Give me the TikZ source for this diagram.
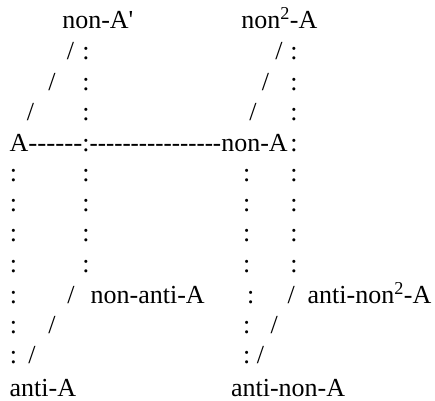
\documentclass[tikz,border=0pt]{standalone}
\usepackage{fontspec}
\setmainfont{Liberation Serif}[Ligatures=TeXOff]
\usepackage{tikz}
\usetikzlibrary{positioning}

\begin{document}
\begin{tikzpicture}[
  x=1pt, y=-1pt,
  txt/.style={anchor=base west, inner sep=0pt, outer sep=0pt,
    font=\fontsize{26}{30}\selectfont},
]
\useasboundingbox (0,0) rectangle (435,400);
% labels
\node[txt] (nonAp) at (62.3,28.3) {non-A'};
\node[txt] (nontwoA) at (241.3,28.3) {non\textsuperscript{2}-A};
\node[txt] (A) at (9.6,151) {A};
\node[txt] (nonA) at (221.3,151) {non-A};
\node[txt] (nonantiA) at (90.6,303.3) {non-anti-A};
\node[txt] (antinontwoA) at (307.6,303.3) {anti-non\textsuperscript{2}-A};
\node[txt] (antiA) at (9.6,396.7) {anti-A};
\node[txt] (antinonA) at (231,396.7) {anti-non-A};
% slashes
\node[txt] (sl1) at (66.9,59.5) {/};
\node[txt] (sl2) at (48.4,90) {/};
\node[txt] (sl3) at (26.9,120.5) {/};
\node[txt] (sr1) at (275.4,59.5) {/};
\node[txt] (sr2) at (261.9,90) {/};
\node[txt] (sr3) at (249.4,120.5) {/};
\node[txt] (sl4) at (67.4,303.3) {/};
\node[txt] (sl5) at (48.4,333.3) {/};
\node[txt] (sl6) at (28.4,363.3) {/};
\node[txt] (sr4) at (287.7,303.3) {/};
\node[txt] (sr5) at (270.6,333.3) {/};
\node[txt] (sr6) at (256.9,363.3) {/};
% dashes of the middle row
\node[txt] (dashL) at (A.base east) {\scalebox{1.04}[1]{------}};
\node[txt] (cmid) at (82.4,151) {:};
\node[txt] (dashR) at (89.6,151) {\scalebox{0.95}[1]{----------------}};
\node[txt] (cnonA) at (290.4,151) {:};
% colon columns
\foreach \y [count=\i] in {59.5,90,120.5}
  \node[txt] (ca\i) at (82.4,\y) {:};
\foreach \y [count=\i] in {59.5,90,120.5,181.7,211.7,241.7,272.5}
  \node[txt] (cd\i) at (290.4,\y) {:};
\foreach \y [count=\i] in {181.7,211.7,241.7,272.5,303.3,333.3,363.3}
  \node[txt] (cl\i) at (9.9,\y) {:};
\foreach \y [count=\i] in {181.7,211.7,241.7,272.5}
  \node[txt] (cb\i) at (82.4,\y) {:};
\foreach \y [count=\i] in {181.7,211.7,241.7,272.5,333.3,363.3}
  \node[txt] (cc\i) at (243.1,\y) {:};
\node[txt] (cc0) at (247.1,303.3) {:};
\end{tikzpicture}
\end{document}
